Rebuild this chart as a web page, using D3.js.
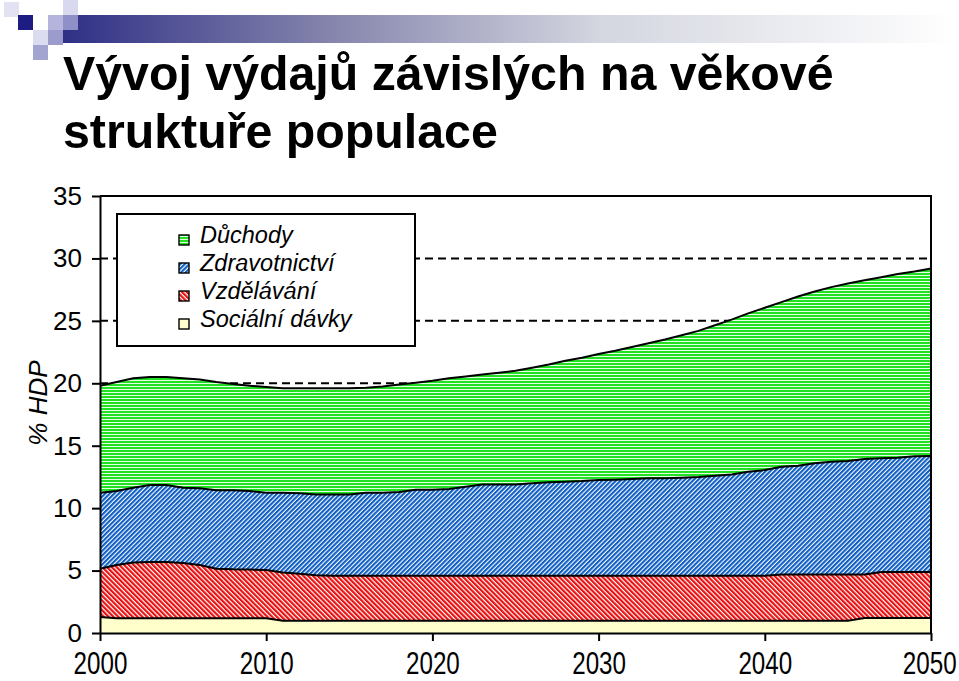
<!DOCTYPE html>
<html><head><meta charset="utf-8">
<script src="https://cdn.jsdelivr.net/npm/d3@7"></script>
<style>
html,body{margin:0;padding:0;background:#fff;}
svg{display:block;}
</style></head>
<body>
<svg id="chart" width="959" height="681"></svg>
<script>
const years = [2000,2001,2002,2003,2004,2005,2006,2007,2008,2009,2010,2011,2012,2013,2014,2015,2016,2017,2018,2019,2020,2021,2022,2023,2024,2025,2026,2027,2028,2029,2030,2031,2032,2033,2034,2035,2036,2037,2038,2039,2040,2041,2042,2043,2044,2045,2046,2047,2048,2049,2050];
const socialni = [1.28,1.18,1.18,1.18,1.18,1.18,1.18,1.18,1.18,1.18,1.18,0.98,0.98,0.98,0.98,0.98,0.98,0.98,0.98,0.98,0.98,0.98,0.98,0.98,0.98,0.98,0.98,0.98,0.98,0.98,0.98,0.98,0.98,0.98,0.98,0.98,0.98,0.98,0.98,0.98,0.98,0.98,0.98,0.98,0.98,0.98,1.2,1.2,1.2,1.2,1.2];
const vzdelavani = [3.87,4.27,4.47,4.50,4.50,4.42,4.27,3.97,3.92,3.90,3.87,3.87,3.77,3.64,3.60,3.60,3.60,3.60,3.60,3.60,3.60,3.60,3.60,3.60,3.60,3.60,3.60,3.60,3.60,3.60,3.60,3.60,3.60,3.60,3.60,3.60,3.60,3.60,3.60,3.60,3.60,3.70,3.70,3.70,3.70,3.70,3.48,3.68,3.68,3.68,3.68];
const zdravotnictvi = [6.09,5.92,5.99,6.17,6.17,6.04,6.15,6.28,6.33,6.29,6.19,6.39,6.44,6.48,6.52,6.52,6.66,6.66,6.72,6.90,6.90,6.95,7.14,7.32,7.32,7.32,7.41,7.49,7.54,7.59,7.67,7.70,7.75,7.81,7.81,7.86,7.92,8.02,8.12,8.34,8.47,8.64,8.72,8.91,9.04,9.10,9.26,9.12,9.16,9.27,9.30];
const duchody = [8.56,8.73,8.76,8.65,8.65,8.76,8.70,8.67,8.52,8.43,8.46,8.36,8.41,8.50,8.50,8.50,8.41,8.51,8.60,8.57,8.72,8.87,8.83,8.80,8.95,9.10,9.26,9.43,9.68,9.88,10.10,10.32,10.57,10.81,11.11,11.41,11.70,12.05,12.40,12.68,13.00,13.18,13.55,13.76,13.98,14.22,14.31,14.50,14.71,14.80,15.02];
const seriesNames = ["Sociální dávky","Vzdělávání","Zdravotnictví","Důchody"];
const legendOrder = ["Důchody","Zdravotnictví","Vzdělávání","Sociální dávky"];
const yTicks = [0,5,10,15,20,25,30,35];
const xTicks = [2000,2010,2020,2030,2040,2050];
const gridValues = [5,10,15,20,25,30];
const titleLines = ["Vývoj výdajů závislých na věkové","struktuře populace"];
const yTitle = "% HDP";

const svg = d3.select("#chart");
const font = "'Liberation Sans', Arial, sans-serif";

// header decoration
const grad = svg.append("defs").append("linearGradient").attr("id","barGrad").attr("x1","0").attr("x2","1").attr("y1","0").attr("y2","0");
grad.append("stop").attr("offset","0").attr("stop-color","#2f2f86");
grad.append("stop").attr("offset","0.3").attr("stop-color","#8585ad");
grad.append("stop").attr("offset","0.6").attr("stop-color","#d4d6e0");
grad.append("stop").attr("offset","1").attr("stop-color","#ffffff");
svg.append("rect").attr("x",62).attr("y",15).attr("width",897).attr("height",28).attr("fill","url(#barGrad)");
const sq = [[4,2,"#e2e2f2"],[18,15,"#1c1c82"],[63,0,"#d8d8ee"],[48,15,"#b4b4dc"],[63,15,"#9090c8"],[33,30,"#dcdcf0"],[48,30,"#9c9ccc"],[33,45,"#a4a4d0"]];
svg.selectAll("rect.sq").data(sq).join("rect").attr("class","sq")
  .attr("x",d=>d[0]).attr("y",d=>d[1]).attr("width",15).attr("height",15).attr("fill",d=>d[2]);

// title
svg.selectAll("text.title").data(titleLines).join("text").attr("class","title")
  .attr("x",63).attr("y",(d,i)=>90+i*58)
  .attr("font-family",font).attr("font-weight","bold").attr("font-size",48.3)
  .attr("fill","#000").text(d=>d);

// patterns
const defs = svg.append("defs");
const pg = defs.append("pattern").attr("id","pGreen").attr("patternUnits","userSpaceOnUse").attr("width",4).attr("height",3);
pg.append("rect").attr("width",4).attr("height",3).attr("fill","#22e022");
pg.append("rect").attr("y",2).attr("width",4).attr("height",1).attr("fill","#e4fde4");
const pb = defs.append("pattern").attr("id","pBlue").attr("patternUnits","userSpaceOnUse").attr("width",3.2).attr("height",4).attr("patternTransform","rotate(45)");
pb.append("rect").attr("width",3.2).attr("height",4).attr("fill","#ffffff");
pb.append("rect").attr("width",2.1).attr("height",4).attr("fill","#0f5ec4");
const pr = defs.append("pattern").attr("id","pRed").attr("patternUnits","userSpaceOnUse").attr("width",3.4).attr("height",4).attr("patternTransform","rotate(-45)");
pr.append("rect").attr("width",3.4).attr("height",4).attr("fill","#ffffff");
pr.append("rect").attr("width",2.2).attr("height",4).attr("fill","#e81010");
const fills = {"Sociální dávky":"#ffffcc","Vzdělávání":"url(#pRed)","Zdravotnictví":"url(#pBlue)","Důchody":"url(#pGreen)"};

// scales
const x = d3.scaleLinear().domain([2000,2050]).range([100,931]);
const y = d3.scaleLinear().domain([0,35]).range([633,196]);

// data table
const table = years.map((yr,i)=>({year:yr,"Sociální dávky":socialni[i],"Vzdělávání":vzdelavani[i],"Zdravotnictví":zdravotnictvi[i],"Důchody":duchody[i]}));
const stacked = d3.stack().keys(seriesNames)(table);

// gridlines
svg.selectAll("line.grid").data(gridValues).join("line").attr("class","grid")
  .attr("x1",100).attr("x2",931).attr("y1",d=>y(d)).attr("y2",d=>y(d))
  .attr("stroke","#000").attr("stroke-width",2).attr("stroke-dasharray","8,5");

// areas
const area = d3.area().x(d=>x(d.data.year)).y0(d=>y(d[0])).y1(d=>y(d[1]));
svg.selectAll("path.area").data(stacked).join("path").attr("class","area")
  .attr("d",area).attr("fill",d=>fills[d.key]);
const line = d3.line().x(d=>x(d.data.year)).y(d=>y(d[1]));
svg.selectAll("path.bline").data(stacked).join("path").attr("class","bline")
  .attr("d",line).attr("fill","none").attr("stroke","#000").attr("stroke-width",2);

// borders
svg.append("line").attr("x1",100).attr("x2",932).attr("y1",196).attr("y2",196).attr("stroke","#000").attr("stroke-width",2);
svg.append("line").attr("x1",931).attr("x2",931).attr("y1",196).attr("y2",633).attr("stroke","#000").attr("stroke-width",2);

// axes
const yAxis = svg.append("g").attr("transform","translate(100,0)")
  .call(d3.axisLeft(y).tickValues(yTicks).tickSize(8).tickSizeOuter(0).tickPadding(10));
yAxis.selectAll("text").attr("font-family",font).attr("font-size",26).attr("fill","#000");
yAxis.selectAll("line,path").attr("stroke","#000").attr("stroke-width",2);

const xAxis = svg.append("g").attr("transform","translate(0,633)")
  .call(d3.axisBottom(x).tickValues(xTicks).tickFormat(d3.format("d")).tickSize(8).tickSizeOuter(0));
xAxis.selectAll("text").attr("font-family",font).attr("font-size",26).attr("fill","#000")
  .attr("y",0).attr("dy",0).attr("text-anchor",(d,i)=>i===xTicks.length-1?"end":"middle")
  .attr("x",(d,i)=>i===xTicks.length-1?27:0)
  .attr("transform","translate(0,41) scale(0.93,1.2)");
xAxis.selectAll("line,path").attr("stroke","#000").attr("stroke-width",2);

// y title
svg.append("text").attr("transform","translate(47,403) rotate(-90)")
  .attr("text-anchor","middle").attr("font-family",font).attr("font-style","italic")
  .attr("font-size",26).text(yTitle);

// legend
const lg = svg.append("g");
lg.append("rect").attr("x",117).attr("y",214).attr("width",298).attr("height",132)
  .attr("fill","#fff").attr("stroke","#000").attr("stroke-width",2);
const items = lg.selectAll("g.item").data(legendOrder).join("g").attr("class","item")
  .attr("transform",(d,i)=>`translate(0,${243+i*28})`);
items.append("rect").attr("x",179).attr("y",-8).attr("width",10).attr("height",10)
  .attr("fill",d=>fills[d]).attr("stroke","#000").attr("stroke-width",1.4);
items.append("text").attr("x",200).attr("y",0).attr("font-family",font).attr("font-style","italic")
  .attr("font-size",23.5).text(d=>d);
</script>
</body></html>
